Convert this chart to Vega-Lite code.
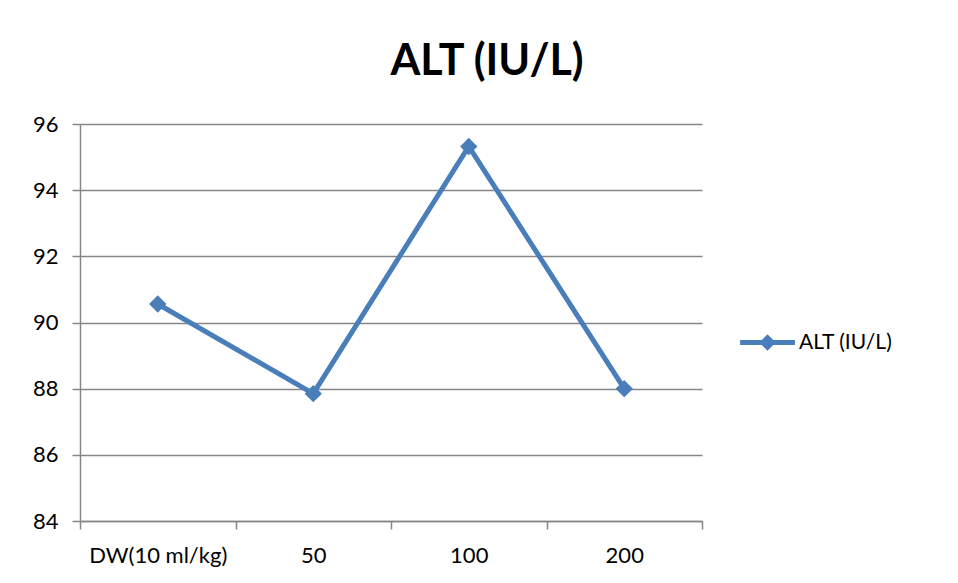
{
  "$schema": "https://vega.github.io/schema/vega-lite/v6.json",
  "autosize": {"type": "none"},
  "width": 622,
  "height": 397,
  "padding": {"left": 80, "top": 124, "right": 256, "bottom": 62},
  "background": "white",
  "config": {
    "font": "Lato",
    "view": {"stroke": null}
  },
  "title": {
    "text": "ALT (IU/L)",
    "font": "Lato",
    "fontSize": 43,
    "fontWeight": "bold",
    "color": "#000000",
    "anchor": "middle",
    "frame": "group",
    "dx": 96,
    "offset": 29
  },
  "data": {
    "values": [
      {"dose": "DW(10 ml/kg)", "ALT": 90.56, "series": "ALT (IU/L)"},
      {"dose": "50", "ALT": 87.85, "series": "ALT (IU/L)"},
      {"dose": "100", "ALT": 95.32, "series": "ALT (IU/L)"},
      {"dose": "200", "ALT": 88.0, "series": "ALT (IU/L)"}
    ]
  },
  "mark": {
    "type": "line",
    "strokeWidth": 5,
    "point": {"shape": "diamond", "size": 300, "filled": true, "opacity": 1}
  },
  "encoding": {
    "x": {
      "field": "dose",
      "type": "nominal",
      "sort": null,
      "scale": {"type": "band", "paddingInner": 0, "paddingOuter": 0},
      "axis": {
        "title": null,
        "labelAngle": 0,
        "labelFontSize": 22,
        "labelColor": "#000000",
        "labelPadding": 16,
        "tickBand": "extent",
        "tickSize": 8,
        "tickColor": "#868686",
        "tickWidth": 1.5,
        "domainColor": "#868686",
        "domainWidth": 1.5,
        "grid": false
      }
    },
    "y": {
      "field": "ALT",
      "type": "quantitative",
      "scale": {"domain": [84, 96], "nice": false, "zero": false},
      "axis": {
        "title": null,
        "values": [84, 86, 88, 90, 92, 94, 96],
        "labelFontSize": 22,
        "labelColor": "#000000",
        "labelPadding": 14,
        "tickSize": 8,
        "tickColor": "#868686",
        "tickWidth": 1.5,
        "domainColor": "#868686",
        "domainWidth": 1.5,
        "grid": true,
        "gridColor": "#868686",
        "gridWidth": 1.5
      }
    },
    "color": {
      "field": "series",
      "type": "nominal",
      "scale": {"range": ["#4A7EBB"]},
      "legend": {
        "title": null,
        "orient": "none",
        "legendX": 660,
        "legendY": 191,
        "labelFontSize": 21,
        "labelColor": "#000000",
        "labelOffset": 4,
        "symbolType": "M-1,-0.09H1V0.09H-1Z M0,-0.3L0.3,0L0,0.3L-0.3,0Z",
        "symbolSize": 3000,
        "symbolStrokeWidth": 0,
        "symbolFillColor": "#4A7EBB",
        "symbolOpacity": 1
      }
    }
  }
}
